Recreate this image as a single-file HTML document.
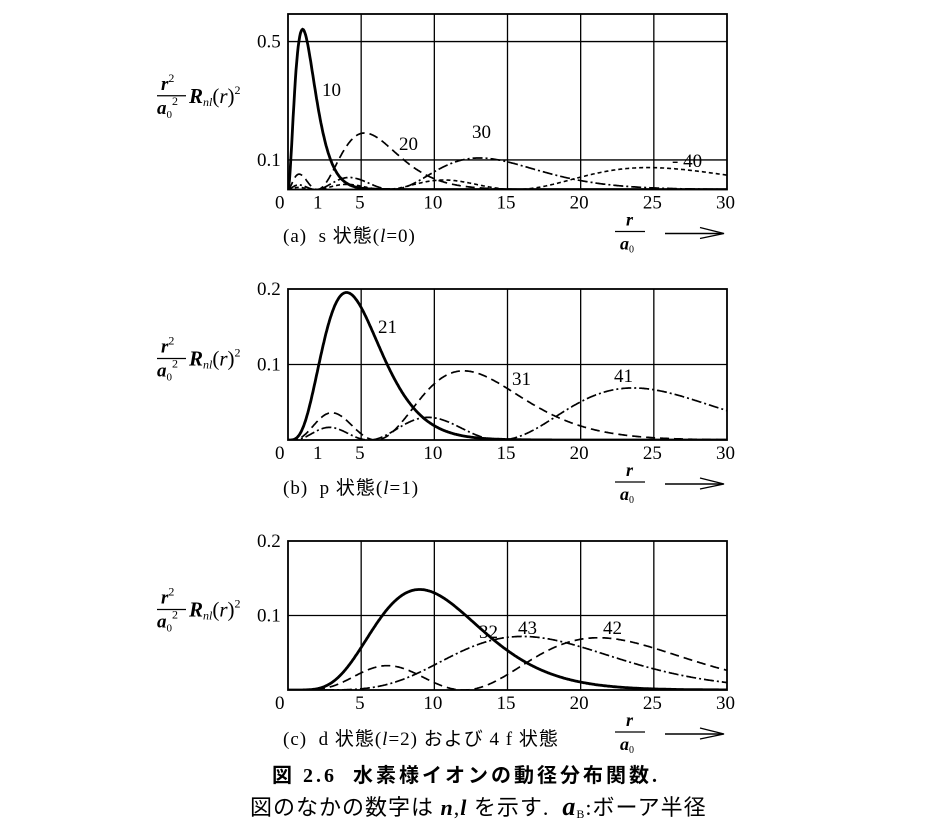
<!DOCTYPE html>
<html><head><meta charset="utf-8">
<style>
html,body{margin:0;padding:0;background:#fff;}
svg{display:block;}
text{font-family:"Liberation Serif","Noto Serif CJK SC",serif;fill:#000;}
.j{font-family:"Liberation Serif","Noto Sans CJK JP",serif;}
</style></head>
<body>
<svg id="s" width="938" height="833" viewBox="0 0 938 833" xmlns="http://www.w3.org/2000/svg">
</svg>
<script>
const S=document.getElementById('s');
const X0=288,X1=727,sx=(X1-X0)/30;
const E=Math.exp, sq=Math.sqrt;
const F={
'10':r=>{let R=2*E(-r);return r*r*R*R;},
'20':r=>{let R=(2-r)*E(-r/2)/(2*sq(2));return r*r*R*R;},
'21':r=>{let R=r*E(-r/2)/(2*sq(6));return r*r*R*R;},
'30':r=>{let R=2/(81*sq(3))*(27-18*r+2*r*r)*E(-r/3);return 1.05*r*r*R*R;},
'31':r=>{let R=4/(81*sq(6))*(6*r-r*r)*E(-r/3);return 0.9*r*r*R*R;},
'32':r=>{let R=4/(81*sq(30))*r*r*E(-r/3);return 1.26*r*r*R*R;},
'40':r=>{let R=0.25*(1-0.75*r+r*r/8-r*r*r/192)*E(-r/4);return 1.15*r*r*R*R;},
'41':r=>{let R=sq(5)/(16*sq(3))*r*(1-r/4+r*r/80)*E(-r/4);return 1.07*r*r*R*R;},
'42':r=>{let R=1/(64*sq(5))*r*r*(1-r/12)*E(-r/4);return 1.08*r*r*R*R;},
'43':r=>{let R=1/(768*sq(35))*r*r*r*E(-r/4);return 1.03*r*r*R*R;}
};
let h='';
function T(x,y,t,sz,extra){h+=`<text x="${x}" y="${y}" font-size="${sz||17}" ${extra||''}>${t}</text>`;}
function panel(top,bot,ymax,hl,curves,ticks,showOne,labels,lab,laby){
  const sy=(bot-top)/ymax;
  const Y=v=>bot-v*sy;
  for(let k=5;k<30;k+=5){let x=X0+k*sx;h+=`<line x1="${x}" y1="${top}" x2="${x}" y2="${bot}" stroke="#000" stroke-width="1.3"/>`;}
  hl.forEach(v=>{h+=`<line x1="${X0}" y1="${Y(v)}" x2="${X1}" y2="${Y(v)}" stroke="#000" stroke-width="1.3"/>`;});
  h+=`<rect x="${X0}" y="${top}" width="${X1-X0}" height="${bot-top}" fill="none" stroke="#000" stroke-width="1.8"/>`;
  const id='c'+top;
  h+=`<clipPath id="${id}"><rect x="${X0}" y="${top}" width="${X1-X0}" height="${bot-top}"/></clipPath>`;
  curves.forEach(([k,st,w])=>{
    let d='';for(let i=0;i<=600;i++){let r=i*30/600;d+=(i?'L':'M')+(X0+r*sx).toFixed(1)+','+Y(F[k](r)).toFixed(1);}
    h+=`<path d="${d}" fill="none" stroke="#000" stroke-width="${w}" stroke-dasharray="${st}" clip-path="url(#${id})"/>`;
  });
  ticks.forEach(([v,t])=>T(257,Y(v)+6,t,19));
  const ty=bot+19;
  T(X0-13,ty,'0',19);
  if(showOne)T(313,ty,'1',19);
  [5,10,15,20,25,30].forEach(k=>T(X0+k*sx-(k<10?6:11),ty,k,19));
  labels.forEach(([x,y,t])=>T(x,y,t,19));
  const yc=(top+bot)/2-8;
  T(161,yc-4,'<tspan font-style="italic" font-weight="bold">r</tspan><tspan font-size="12" dy="-8">2</tspan>',19);
  h+=`<line x1="157" y1="${yc+2}" x2="186" y2="${yc+2}" stroke="#000" stroke-width="1.2"/>`;
  T(157,yc+20,'<tspan font-style="italic" font-weight="bold">a</tspan><tspan font-size="11" dy="4">0</tspan><tspan font-size="12" dy="-13">2</tspan>',19);
  T(189,yc+9,'<tspan font-style="italic" font-weight="bold">R</tspan><tspan font-size="12" font-style="italic" dy="3">nl</tspan><tspan dy="-3">(</tspan><tspan font-style="italic">r</tspan>)<tspan font-size="12" dy="-9">2</tspan>',21);
  T(283,laby,lab,19,'class="j" letter-spacing="1"');
  const fy=bot+36;
  T(626,fy,'<tspan font-style="italic" font-weight="bold">r</tspan>',18);
  h+=`<line x1="615" y1="${fy+6}" x2="645" y2="${fy+6}" stroke="#000" stroke-width="1.2"/>`;
  T(620,fy+24,'<tspan font-style="italic" font-weight="bold">a</tspan><tspan font-size="10" dy="3">0</tspan>',18);
  h+=`<line x1="665" y1="${fy+8}" x2="722" y2="${fy+8}" stroke="#000" stroke-width="1.6"/><path d="M700,${fy+2} L724,${fy+8} L700,${fy+13}" fill="none" stroke="#000" stroke-width="1.4"/>`;
}
panel(14,189.5,0.5932,[0.5,0.1],
 [['10','',2.8],['20','9,5',1.7],['30','10,3,2,3',1.7],['40','4,3',1.6]],
 [[0.5,'0.5'],[0.1,'0.1']],true,
 [[322,96,'10'],[399,150,'20'],[472,138,'30'],[672,167,'- 40']],
 '(a)&#160;&#160;s 状態(<tspan font-style="italic">l</tspan>=0)',242);
panel(289,440,0.2,[0.1],
 [['21','',2.8],['31','9,5',1.7],['41','10,3,2,3',1.7]],
 [[0.2,'0.2'],[0.1,'0.1']],true,
 [[378,333,'21'],[512,385,'31'],[614,382,'41']],
 '(b)&#160;&#160;p 状態(<tspan font-style="italic">l</tspan>=1)',494);
panel(541,690,0.2,[0.1],
 [['32','',2.8],['42','9,5',1.7],['43','10,3,2,3',1.7]],
 [[0.2,'0.2'],[0.1,'0.1']],false,
 [[479,638,'32'],[518,634,'43'],[603,634,'42']],
 '(c)&#160;&#160;d 状態(<tspan font-style="italic">l</tspan>=2) および 4 f 状態',745);
T(272,782,'図 2.6&#160;&#160;水素様イオンの動径分布関数.',20,'class="j" font-weight="bold" letter-spacing="3"');
T(250,815,'図のなかの数字は <tspan font-style="italic" font-weight="bold">n</tspan>,<tspan font-style="italic" font-weight="bold">l</tspan> を示す.&#160;&#160;<tspan font-style="italic" font-weight="bold" font-size="26">a</tspan><tspan font-size="12" dy="3">B</tspan><tspan dy="-3">:ボーア半径</tspan>',22,'class="j" letter-spacing="1"');
S.innerHTML=h;
</script>
</body></html>
